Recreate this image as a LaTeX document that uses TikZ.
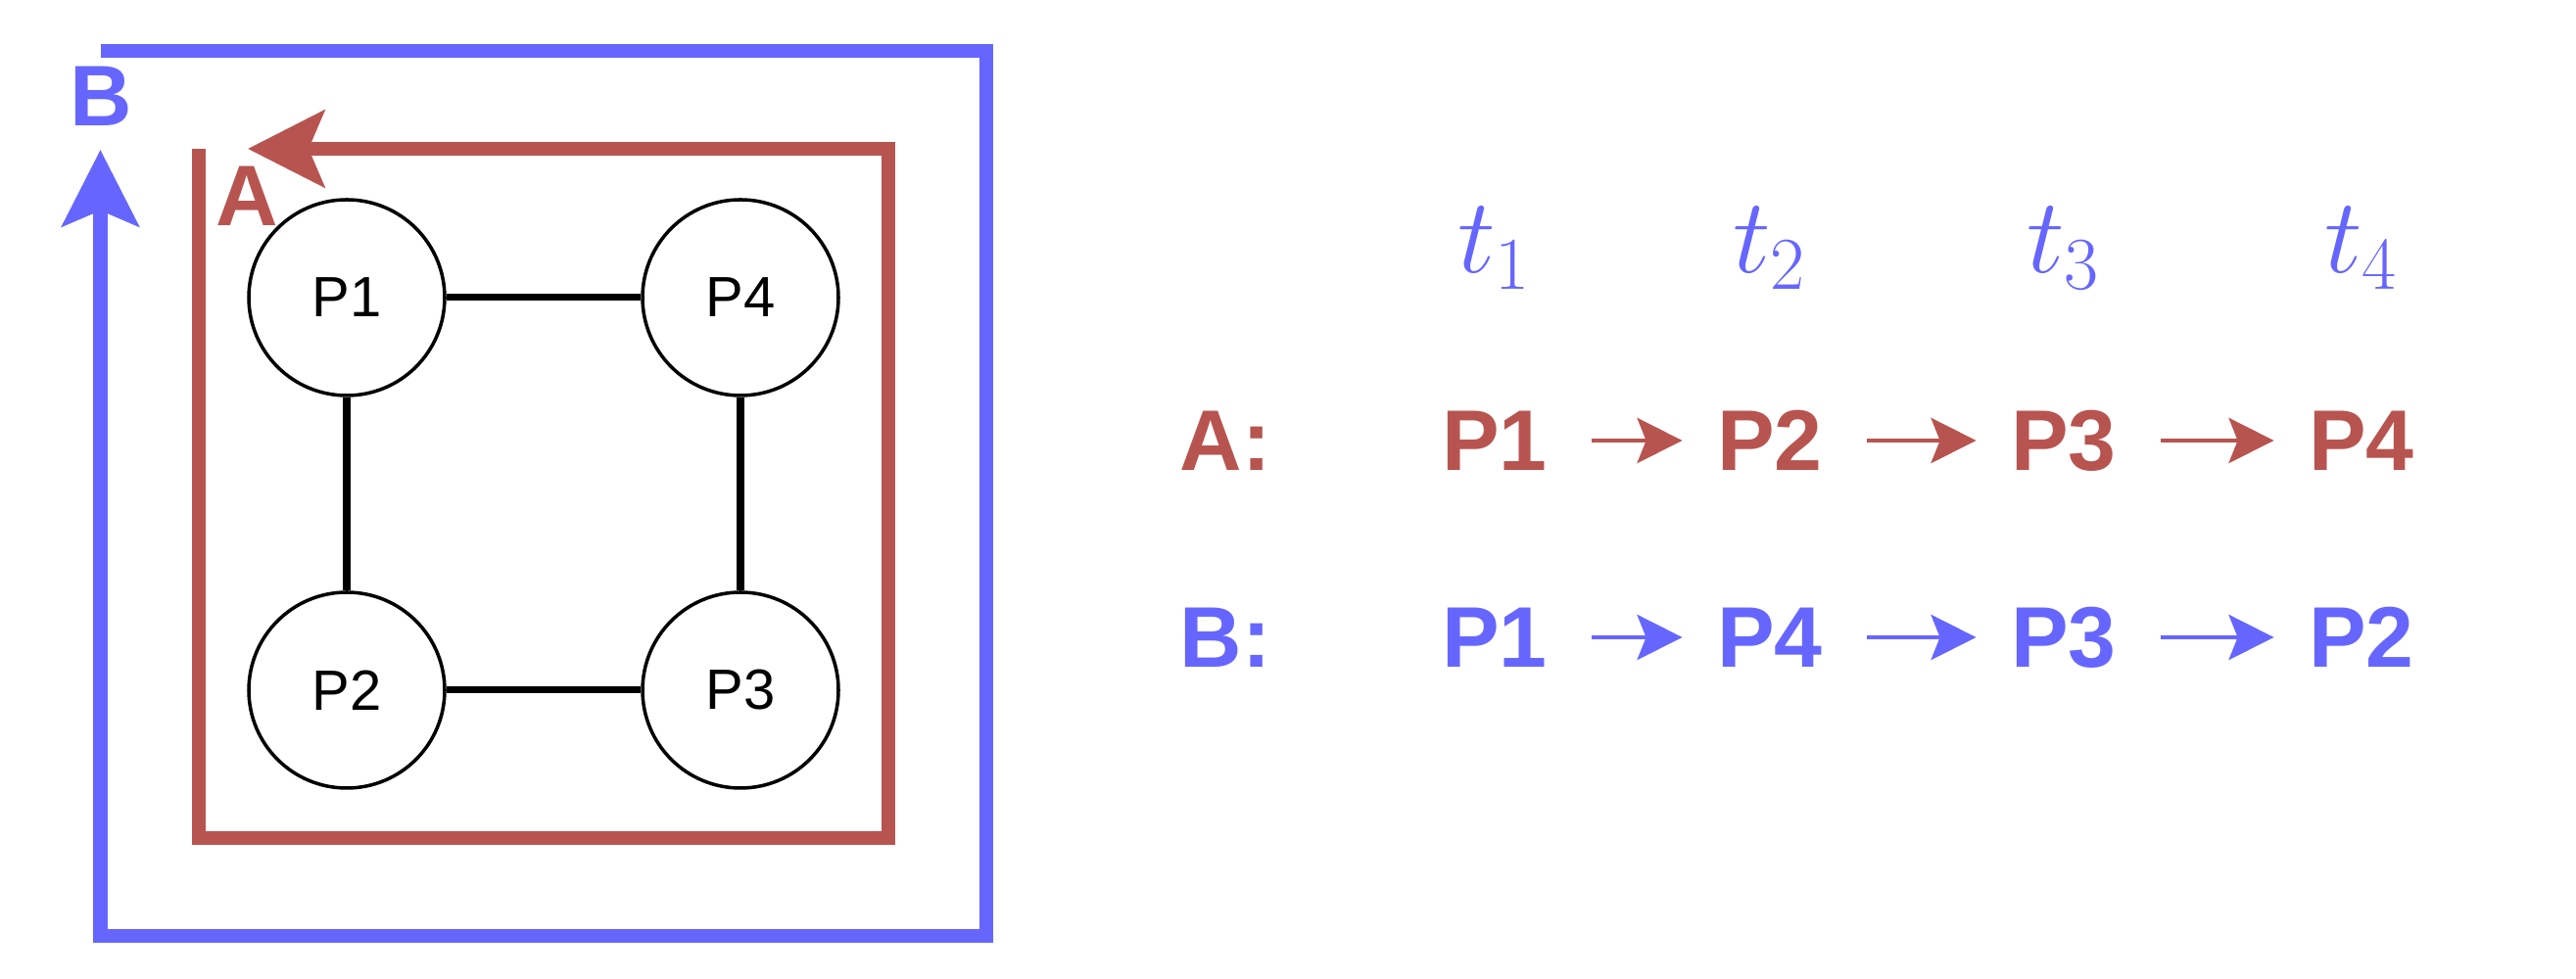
\documentclass[tikz,border=0pt]{standalone}
\usepackage{fix-cm}
\usepackage{fontspec}
\setmainfont{Liberation Sans}
\usetikzlibrary{arrows.meta, positioning}
\definecolor{pathred}{HTML}{B85450}
\definecolor{pathblue}{HTML}{6666FF}
\tikzstyle{procnode} = [
  circle, draw, line width=1pt, minimum size=2cm,
  inner sep=0pt, font=\fontsize{16.5}{20}\selectfont
]
\tikzstyle{link} = [line width=2pt]
\tikzstyle{route} = [line width=4pt, -{Stealth[length=0.78cm, width=0.78cm, inset=0.16cm]}]
\tikzstyle{seqnode} = [inner sep=0pt, font=\fontsize{25}{30}\selectfont\bfseries]
\tikzstyle{seqarrow} = [line width=1.4pt, -{Stealth[length=0.46cm, width=0.46cm, inset=0.09cm]}, shorten <=0.45cm, shorten >=0.35cm]
\tikzstyle{timenode} = [text=pathblue, inner sep=0pt, anchor=base, font=\fontsize{31}{36}\selectfont]

\begin{document}
\begin{tikzpicture}[on grid]
\useasboundingbox (0,0) rectangle (26.3,10);

% Processes
\node (p1) [procnode] at (3.54,6.96) {P1};
\node (p4) [procnode, right=4.02cm of p1] {P4};
\node (p2) [procnode, below=4.01cm of p1] {P2};
\node (p3) [procnode, right=4.02cm of p2] {P3};

\draw [link] (p1) -- (p4);
\draw [link] (p1) -- (p2);
\draw [link] (p4) -- (p3);
\draw [link] (p2) -- (p3);

% Routes
\draw [route, pathblue] (1.025,9.48) -- (10.07,9.48) -- (10.07,0.44) -- (1.025,0.44) -- (1.025,8.47);
\draw [route, pathred] (2.027,8.48) -- (2.027,1.44) -- (9.07,1.44) -- (9.07,8.48) -- (2.53,8.48);
\node (routeB) [seqnode, text=pathblue] at (1.035,9.015) {B};
\node (routeA) [seqnode, text=pathred] at (2.52,8.0) {A};

% Time steps
\node (t1) [timenode] at (15.26,7.21) {$t_1$};
\node (t2) [timenode] at (18.07,7.21) {$t_2$};
\node (t3) [timenode] at (21.07,7.21) {$t_3$};
\node (t4) [timenode] at (24.11,7.21) {$t_4$};

% Sequence A
\node (seqA) [seqnode, text=pathred] at (12.51,5.50) {A:};
\node (a1) [seqnode, text=pathred] at (15.26,5.50) {P1};
\node (a2) [seqnode, text=pathred, right=2.81cm of a1] {P2};
\node (a3) [seqnode, text=pathred, right=3.00cm of a2] {P3};
\node (a4) [seqnode, text=pathred, right=3.04cm of a3] {P4};

\draw [seqarrow, pathred] (a1) -- (a2);
\draw [seqarrow, pathred] (a2) -- (a3);
\draw [seqarrow, pathred] (a3) -- (a4);

% Sequence B
\node (seqB) [seqnode, text=pathblue, below=2.01cm of seqA] {B:};
\node (b1) [seqnode, text=pathblue, below=2.01cm of a1] {P1};
\node (b2) [seqnode, text=pathblue, below=2.01cm of a2] {P4};
\node (b3) [seqnode, text=pathblue, below=2.01cm of a3] {P3};
\node (b4) [seqnode, text=pathblue, below=2.01cm of a4] {P2};

\draw [seqarrow, pathblue] (b1) -- (b2);
\draw [seqarrow, pathblue] (b2) -- (b3);
\draw [seqarrow, pathblue] (b3) -- (b4);

\end{tikzpicture}
\end{document}
